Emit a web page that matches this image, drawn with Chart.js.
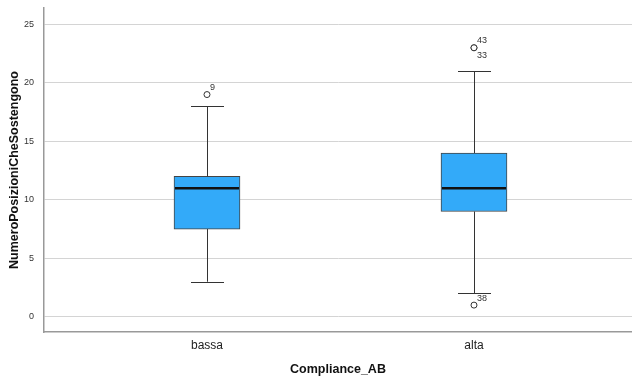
<!DOCTYPE html>
<html>
<head>
<meta charset="utf-8">
<script src="https://cdn.jsdelivr.net/npm/chart.js@4/dist/chart.umd.min.js"></script>
<style>
  html, body { margin: 0; padding: 0; background: #fff; }
</style>
</head>
<body>
<canvas id="grafico" width="632" height="379"></canvas>
<script>
// dati
const categories = ['bassa', 'alta'];
const xPositions = [1, 2];
const q1 = [7.5, 9];
const median = [11, 11];
const q3 = [12, 14];
const whiskerLow = [3, 2];
const whiskerHigh = [18, 21];

const outlierCat = [0, 1, 1, 1];
const outlierValue = [19, 23, 23, 1];
const outlierId = ['9', '43', '33', '38'];

const yStep = 5;

const FONT = "'Liberation Sans', Arial, Helvetica, sans-serif";
const boxColor = '#33aaf9';
const lineColor = '#333333';

const boxWidth = 66;
const capWidth = 33;

const boxExtras = {
    id: 'boxExtras',
    afterDatasetsDraw(chart) {
        const ctx = chart.ctx;
        const x = chart.scales.x, y = chart.scales.y;
        ctx.save();
        ctx.strokeStyle = lineColor;
        ctx.lineWidth = 1;
        categories.forEach((c, i) => {
            const px = Math.round(x.getPixelForValue(xPositions[i])) + 0.5;
            const seg = (a, b) => {
                ctx.beginPath();
                ctx.moveTo(px, y.getPixelForValue(a));
                ctx.lineTo(px, y.getPixelForValue(b));
                ctx.stroke();
            };
            seg(q3[i], whiskerHigh[i]);
            seg(q1[i], whiskerLow[i]);
            [whiskerHigh[i], whiskerLow[i]].forEach(v => {
                const py = Math.round(y.getPixelForValue(v)) + 0.5;
                ctx.beginPath();
                ctx.moveTo(px - capWidth / 2, py);
                ctx.lineTo(px + capWidth / 2, py);
                ctx.stroke();
            });
        });
        // mediana
        ctx.strokeStyle = '#111';
        ctx.lineWidth = 2.5;
        categories.forEach((c, i) => {
            const px = x.getPixelForValue(xPositions[i]);
            const py = y.getPixelForValue(median[i]);
            ctx.beginPath();
            ctx.moveTo(px - boxWidth / 2 + 1, py);
            ctx.lineTo(px + boxWidth / 2 - 1, py);
            ctx.stroke();
        });
        // etichette outlier
        ctx.fillStyle = '#333';
        ctx.font = '9px ' + FONT;
        ctx.textAlign = 'left';
        ctx.textBaseline = 'middle';
        outlierId.forEach((id, k) => {
            let n = 0;
            for (let j = 0; j < k; j++) {
                if (outlierCat[j] === outlierCat[k] && outlierValue[j] === outlierValue[k]) n++;
            }
            const px = x.getPixelForValue(xPositions[outlierCat[k]]);
            const py = y.getPixelForValue(outlierValue[k]);
            ctx.fillText(id, px + 3, py + (n === 0 ? -7 : 8));
        });
        ctx.restore();
    }
};

new Chart(document.getElementById('grafico'), {
    type: 'bar',
    data: {
        datasets: [{
            type: 'bar',
            data: categories.map((c, i) => ({ x: xPositions[i], y: [q1[i], q3[i]] })),
            backgroundColor: boxColor,
            borderColor: '#444',
            borderWidth: 1,
            borderSkipped: false,
            barThickness: boxWidth,
            order: 2
        }, {
            type: 'scatter',
            data: outlierValue.map((v, k) => ({ x: xPositions[outlierCat[k]], y: v })),
            pointRadius: 3,
            pointBackgroundColor: '#fff',
            pointBorderColor: lineColor,
            pointBorderWidth: 1,
            order: 1
        }]
    },
    options: {
        responsive: false,
        animation: false,
        layout: { autoPadding: false, padding: { top: 8, right: 0, left: 0, bottom: 0 } },
        plugins: { legend: { display: false }, tooltip: { enabled: false } },
        scales: {
            x: {
                type: 'linear',
                offset: false,
                min: 0.3895,
                max: 2.5918,
                afterBuildTicks: s => { s.ticks = xPositions.map(v => ({ value: v })); },
                afterFit: s => { s.height = 47; s.paddingLeft = 0; s.paddingRight = 0; },
                grid: { display: false, drawTicks: false },
                border: { display: true, color: '#999', width: 1.5 },
                ticks: {
                    padding: 6,
                    color: '#222',
                    font: { family: FONT, size: 12 },
                    callback: v => categories[xPositions.indexOf(v)] || ''
                },
                title: {
                    display: true,
                    text: 'Compliance_AB',
                    color: '#111',
                    font: { family: FONT, size: 12.5, weight: 'bold' },
                    padding: { top: 0, bottom: 2 }
                }
            },
            y: {
                min: -1.3,
                max: 26.4,
                afterFit: s => { s.width = 44; s.paddingTop = 0; s.paddingBottom = 0; },
                grid: { color: '#d4d4d4', lineWidth: 1, drawTicks: false },
                border: { display: true, color: '#999', width: 1.5 },
                ticks: {
                    stepSize: yStep,
                    includeBounds: false,
                    padding: 10,
                    color: '#333',
                    font: { family: FONT, size: 9 }
                },
                title: {
                    display: true,
                    text: 'NumeroPosizioniCheSostengono',
                    color: '#111',
                    font: { family: FONT, size: 12.5, weight: 'bold' },
                    padding: { top: 7, bottom: 0 }
                }
            }
        }
    },
    plugins: [boxExtras]
});
</script>
</body>
</html>
